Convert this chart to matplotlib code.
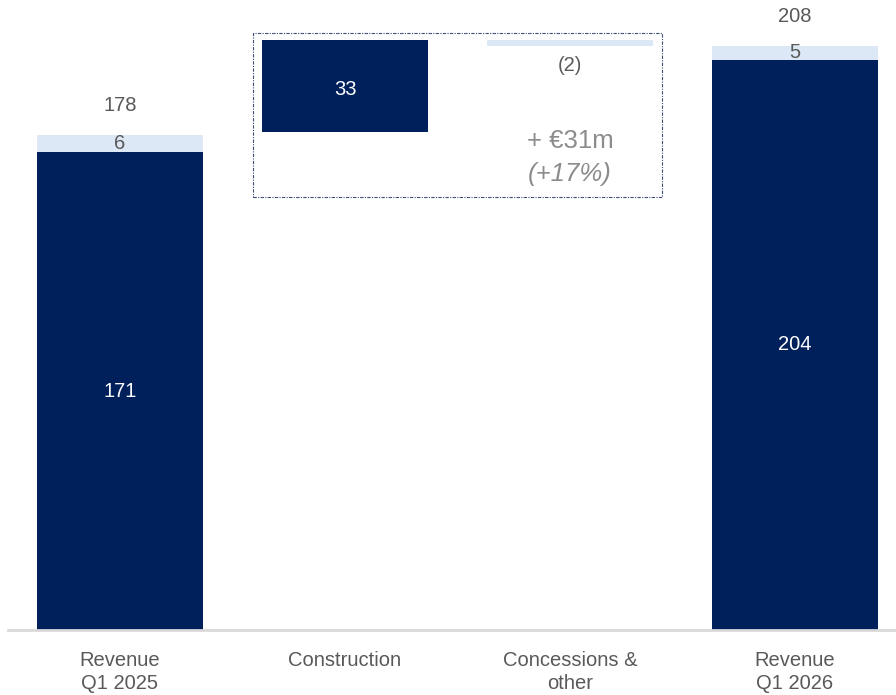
import numpy as np
import matplotlib.pyplot as plt
from matplotlib.patches import Rectangle

# 营收桥接数据 (€m)
categories = ["Revenue\nQ1 2025", "Construction", "Concessions &\nother", "Revenue\nQ1 2026"]
base_dark = [171, 204]          # 两端柱深色部分
base_light = [6, 5]             # 两端柱浅色部分
totals = [178, 208]             # 柱顶合计标签
construction_delta = 33
concessions_delta = -2
bridge_note = ["+ €31m", "(+17%)"]

DARK = "#00205C"
LIGHT = "#DCE8F5"
GREY = "#595959"

plt.rcParams['font.family'] = ['Liberation Sans', 'DejaVu Sans']

fig = plt.figure(figsize=(8.96, 6.95), dpi=100)
ax = fig.add_axes([7.5 / 896, 65 / 695, 1 - 7.5 / 896, 630 / 695])

x = np.arange(len(categories))
width = 166 / 225

# 两端柱
ends = [0, 3]
ax.bar([x[i] for i in ends], base_dark, width, color=DARK)
ax.bar([x[i] for i in ends], base_light, width, bottom=base_dark, color=LIGHT)

# 中间增减柱
start_c = totals[0]
ax.bar(x[1], construction_delta, width, bottom=start_c, color=DARK)
start_k = start_c + construction_delta
ax.bar(x[2], concessions_delta, width, bottom=start_k, color=LIGHT)

# 数值标签
for i, d, l, t in zip(ends, base_dark, base_light, totals):
    ax.text(x[i], d / 2, f"{d}", ha='center', va='center', color='white', fontsize=14.5)
    ax.text(x[i], d + l / 2, f"{l}", ha='center', va='center', color=GREY, fontsize=14.5)
    ax.text(x[i], d + l + 10.5, f"{t}", ha='center', va='center', color=GREY, fontsize=14.5)

ax.text(x[1], start_c + construction_delta / 2 - 1, f"{construction_delta}",
        ha='center', va='center', color='white', fontsize=14.5)
ax.text(x[2], start_k + concessions_delta - 7, f"({abs(concessions_delta)})",
        ha='center', va='center', color=GREY, fontsize=14.5)

# 增长说明
ax.text(x[2], 175, bridge_note[0], ha='center', va='center', color='#8C8C8C', fontsize=18.5)
ax.text(x[2], 163, bridge_note[1], ha='center', va='center', color='#8C8C8C',
        fontsize=18.5, style='italic')

# 虚线框
box = Rectangle((0.591, 154.9), 2.409 - 0.591, 213.6 - 154.9, fill=False,
                edgecolor='#3E4C7A', linewidth=0.8, linestyle=(0, (3, 1.2, 1, 1.2)))
ax.add_patch(box)

ax.set_xlim(-0.5, 3.449)
ax.set_ylim(0, 225.4)
ax.set_xticks(x)
ax.set_xticklabels(categories, fontsize=14.5, color=GREY, linespacing=1.3)
ax.tick_params(axis='x', length=0, pad=15)
ax.set_yticks([])
for s in ['top', 'right', 'left']:
    ax.spines[s].set_visible(False)
ax.spines['bottom'].set_color('#D9D9D9')
ax.spines['bottom'].set_linewidth(2)

fig.savefig("out.png", dpi=100)
